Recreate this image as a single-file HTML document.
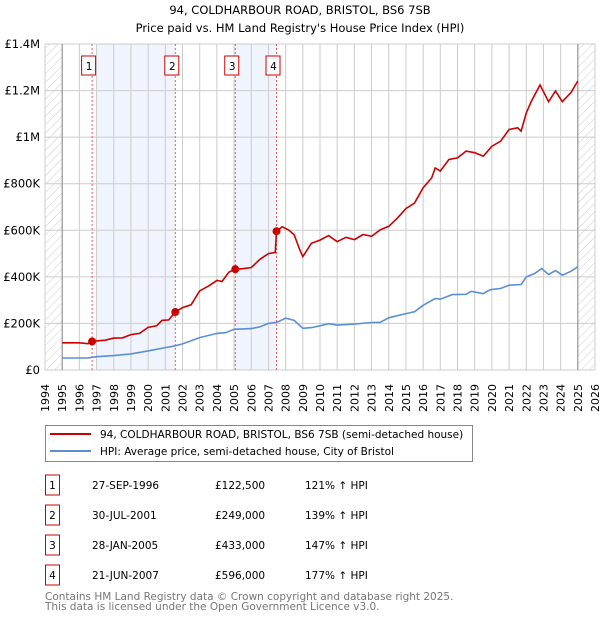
<!DOCTYPE html>
<html><head><meta charset="utf-8"><style>
body{margin:0;background:#fff;font-family:"Liberation Sans","DejaVu Sans",sans-serif;}
svg text{font-family:"DejaVu Sans","Liberation Sans",sans-serif;}
</style></head><body>
<svg id="c" width="600" height="620" xmlns="http://www.w3.org/2000/svg">
<defs><pattern id="hatch" width="6" height="6" patternUnits="userSpaceOnUse" patternTransform="rotate(45)"><line x1="0" y1="0" x2="0" y2="6" stroke="#ccc" stroke-width="1"/></pattern></defs>
<text x="300" y="14" text-anchor="middle" font-size="11.5" fill="#000">94, COLDHARBOUR ROAD, BRISTOL, BS6 7SB</text>
<text x="300" y="32" text-anchor="middle" font-size="11.5" fill="#000">Price paid vs. HM Land Registry's House Price Index (HPI)</text>
<g id="plot"></g>
<g>
<rect x="45.5" y="425.5" width="427" height="36" fill="#fff" stroke="#888"/>
<line x1="50" y1="434" x2="91" y2="434" stroke="#cc0000" stroke-width="2"/>
<text x="100" y="438" font-size="10.5">94, COLDHARBOUR ROAD, BRISTOL, BS6 7SB (semi-detached house)</text>
<line x1="50" y1="451" x2="91" y2="451" stroke="#5b8fd4" stroke-width="2"/>
<text x="100" y="455" font-size="10.5">HPI: Average price, semi-detached house, City of Bristol</text>
</g>
<g id="table" font-size="10.5"></g>
<text x="45" y="600" font-size="10.5" fill="#777">Contains HM Land Registry data © Crown copyright and database right 2025.</text>
<text x="45" y="610" font-size="10.5" fill="#777">This data is licensed under the Open Government Licence v3.0.</text>
</svg>
<script>
const redYears=[1995,1996,1996.5,1996.74,1997,1997.5,1998,1998.5,1999,1999.5,2000,2000.5,2000.8,2001.2,2001.58,2002,2002.5,2003,2003.5,2004,2004.3,2004.7,2005.07,2005.5,2006,2006.5,2007,2007.4,2007.47,2007.8,2008.2,2008.5,2008.83,2009,2009.5,2010,2010.5,2011,2011.5,2012,2012.5,2013,2013.5,2014,2014.5,2015,2015.5,2016,2016.5,2016.7,2017,2017.5,2018,2018.5,2019,2019.5,2020,2020.5,2021,2021.5,2021.7,2022,2022.3,2022.8,2023.3,2023.7,2024.1,2024.6,2025];
const redValues=[117,117,113,122.5,125,128,137,138,152,157,183,190,213,215,249,268,280,340,360,385,380,420,433,435,440,475,500,505,596,615,600,580,515,487,544,558,577,551,570,560,582,574,602,617,652,693,717,782,825,868,854,904,911,940,933,918,961,982,1033,1040,1026,1104,1155,1224,1152,1198,1152,1191,1241];
const hpiYears=[1995,1996.5,1997,1998,1999,2000,2001,2001.58,2002,2003,2004,2004.5,2005,2006,2006.5,2007,2007.5,2008,2008.5,2009,2009.5,2010,2010.5,2011,2012,2013,2013.5,2014,2015,2015.5,2016,2016.7,2017,2017.7,2018.5,2018.8,2019.5,2019.9,2020.5,2021,2021.7,2022,2022.5,2022.9,2023.3,2023.7,2024.1,2024.6,2025];
const hpiValues=[51.5,52,57,62,69,82,96,104,112,139,157,160,175,178,185,200,205,223,213,179,182,190,199,193,197,204,205,224,242,250,278,307,304,324,325,338,328,345,350,364,367,400,415,436,410,427,407,424,443];
const saleYears=[1996.74,2001.58,2005.07,2007.47];
const saleValues=[122.5,249,433,596];
const saleDates=["27-SEP-1996","30-JUL-2001","28-JAN-2005","21-JUN-2007"];
const salePrices=["£122,500","£249,000","£433,000","£596,000"];
const saleHpi=["121% ↑ HPI","139% ↑ HPI","147% ↑ HPI","177% ↑ HPI"];
const yTicks=[0,200,400,600,800,1000,1200,1400];
const yLabels=["£0","£200K","£400K","£600K","£800K","£1M","£1.2M","£1.4M"];
const NS="http://www.w3.org/2000/svg";
const X0=45,X1=595,Y0=370,Y1=44;
const xs=y=>X0+(y-1994)/32*(X1-X0);
const ys=v=>Y0-v/1400*(Y0-Y1);
const g=document.getElementById('plot');
function mk(t,a,p){const e=document.createElementNS(NS,t);for(const k in a)e.setAttribute(k,a[k]);(p||g).appendChild(e);return e;}
let e;
e=mk('rect',{x:xs(1997),y:Y1,width:xs(2001.58)-xs(1997),height:Y0-Y1,fill:'#f0f4fc'});


e=mk('rect',{x:xs(2005.07),y:Y1,width:xs(2007.47)-xs(2005.07),height:Y0-Y1,fill:'#f0f4fc'});


for(let yr=1994;yr<=2026;yr++){
 e=mk('line',{x1:xs(yr),x2:xs(yr),y1:Y1,y2:Y0,stroke:'#ccc','stroke-width':1});
 
 
 e=mk('text',{transform:`translate(${xs(yr)+4},384) rotate(-90)`,'text-anchor':'end','font-size':11,fill:'#000'});
 e.textContent=yr;
 
 
}
yTicks.forEach((v,i)=>{
 e=mk('line',{x1:X0,x2:X1,y1:ys(v),y2:ys(v),stroke:'#ccc','stroke-width':1});
 
 
 e=mk('text',{x:40,y:ys(v)+4,'text-anchor':'end','font-size':11.5,fill:'#000'});
 e.textContent=yLabels[i];
 
 
});
e=mk('rect',{x:X0,y:Y1,width:xs(1995)-X0,height:Y0-Y1,fill:'url(#hatch)'});


e=mk('rect',{x:xs(2025),y:Y1,width:X1-xs(2025),height:Y0-Y1,fill:'url(#hatch)'});


mk('line',{x1:xs(1995),x2:xs(1995),y1:Y1,y2:Y0,stroke:'#999','stroke-width':1.2});
mk('line',{x1:xs(2025),x2:xs(2025),y1:Y1,y2:Y0,stroke:'#999','stroke-width':1.2});
saleYears.forEach((yr,i)=>{
 e=mk('line',{x1:xs(yr),x2:xs(yr),y1:Y1,y2:Y0,stroke:'#e55','stroke-width':1,'stroke-dasharray':'2,2'});
 
 
 const lx=xs(yr)-3;
 e=mk('rect',{x:lx-7.5,y:56,width:14,height:19,fill:'#fff',stroke:'#c00','stroke-width':1});
 
 
 e=mk('text',{x:lx,y:70,'text-anchor':'middle','font-size':10.5});
 e.textContent=i+1;
 
 
});
function path(xa,va){return xa.map((x,i)=>(i?'L':'M')+xs(x).toFixed(1)+','+ys(va[i]).toFixed(1)).join('');}
e=mk('path',{d:path(hpiYears,hpiValues),fill:'none',stroke:'#5b8fd4','stroke-width':1.6});


e=mk('path',{d:path(redYears,redValues),fill:'none',stroke:'#cc0000','stroke-width':1.6});


saleYears.forEach((yr,i)=>{
 e=mk('circle',{cx:xs(yr),cy:ys(saleValues[i]),r:4,fill:'#cc0000'});
 
 
});
const tb=document.getElementById('table');
saleDates.forEach((d,i)=>{
 const cy=[485,515,545,575][i];
 e=mk('rect',{x:45.5,y:cy-10,width:14,height:20,fill:'#fff',stroke:'#c00'},tb);
 
 
 e=mk('text',{x:52.5,y:cy+4,'text-anchor':'middle'},tb);e.textContent=i+1;
 
 
 e=mk('text',{x:92,y:cy+4},tb);e.textContent=d;
 
 
 e=mk('text',{x:215,y:cy+4},tb);e.textContent=salePrices[i];
 
 
 e=mk('text',{x:305,y:cy+4},tb);e.textContent=saleHpi[i];
 
 
});
</script>
</body></html>
